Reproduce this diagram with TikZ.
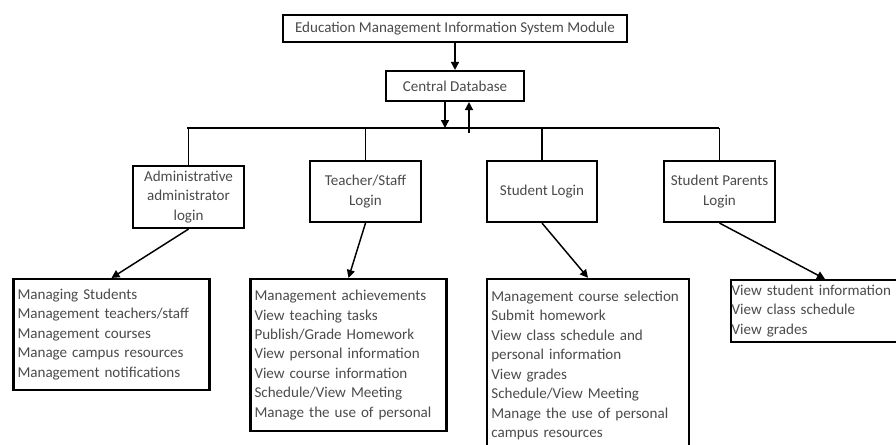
\documentclass[tikz,border=0pt]{standalone}
\usepackage{fontspec}
\setmainfont{Carlito}
\usetikzlibrary{arrows.meta, positioning}
\definecolor{texto}{RGB}{75, 75, 75}

\begin{document}
\begin{tikzpicture}[
    x=0.75pt,
    y=-0.75pt,
    caixa/.style={
        draw=black,
        line width=1.6pt,
        align=center,
        text=texto,
        inner sep=1pt,
        font=\fontsize{11.3}{14.6}\selectfont
    },
    lista/.style={
        caixa,
        align=left,
        inner xsep=3pt
    },
    seta/.style={
        -{Triangle[length=6pt, width=6pt]},
        line width=1.1pt
    },
    linha/.style={
        line width=1.1pt
    }
]

\fill[white] (0,0) rectangle (896,444);
\clip (0,0) rectangle (896,444);

% =================================================
% TOPO - MODULO E BANCO DE DADOS
% =================================================

\node[
    caixa,
    minimum width=258pt,
    minimum height=20.25pt
] (modulo) at (455,28.5)
{Education Management Information System Module};

\node[
    caixa,
    minimum width=103.5pt,
    minimum height=22.5pt
] (banco) at (455,86)
{Central Database};

\draw[seta] (modulo.south) -- (banco.north);

% Barramento
\coordinate (barraE) at (187,128);
\coordinate (barraD) at (719,128);
\coordinate (desce) at (445,128);
\coordinate (sobe) at (469,133);

\draw[linha] (barraE) -- (barraD);
\draw[seta] (banco.south -| desce) -- (desce);
\draw[seta] (sobe) -- (sobe |- banco.south);

% =================================================
% LOGINS
% =================================================

\node[
    caixa,
    minimum width=83.25pt,
    minimum height=46.5pt
] (admin) at (188.5,197)
{Administrative\\administrator\\login};

\node[
    caixa,
    minimum width=83.25pt,
    minimum height=45.75pt
] (prof) at (365.5,191.5)
{Teacher/Staff\\Login};

\node[
    caixa,
    minimum width=82.5pt,
    minimum height=45.75pt
] (aluno) at (542,191.5)
{Student Login};

\node[
    caixa,
    minimum width=83.25pt,
    minimum height=45.75pt
] (pais) at (719.5,191.5)
{Student Parents\\Login};

% Ligacoes ao barramento
\draw[linha] (admin.north) -- (admin.north |- barraE);
\draw[linha] (prof.north) -- (prof.north |- barraE);
\draw[linha] (aluno.north) -- (aluno.north |- barraE);
\draw[linha] (pais.north) -- (pais.north |- barraD);

% =================================================
% FUNCOES
% =================================================

\node[
    lista,
    text width=141pt,
    minimum height=83.25pt
] (adminF) at (111.5,334.5)
{Managing Students\\
 Management teachers/staff\\
 Management courses\\
 Manage campus resources\\
 Management notifications};

\node[
    lista,
    text width=141pt,
    minimum height=114pt
] (profF) at (348.5,355)
{Management achievements\\
 View teaching tasks\\
 Publish/Grade Homework\\
 View personal information\\
 View course information\\
 Schedule/View Meeting\\
 Manage the use of personal};

\node[
    lista,
    text width=145pt,
    minimum height=130pt
] (alunoF) at (588,365.5)
{Management course selection\\
 Submit homework\\
 View class schedule and\\
 personal information\\
 View grades\\
 Schedule/View Meeting\\
 Manage the use of personal\\
 campus resources};

\node[
    lista,
    inner xsep=0.5pt,
    text width=140pt,
    minimum height=46.5pt
] (paisF) at (825,311)
{View student information\\
 View class schedule\\
 View grades};

% Setas para as funcoes
\draw[seta] (admin.south) -- (adminF.north);
\draw[seta] (prof.south) -- (profF.north);
\draw[seta] (aluno.south) -- (alunoF.north);
\draw[seta] (pais.south) -- (paisF.north);

\end{tikzpicture}
\end{document}
